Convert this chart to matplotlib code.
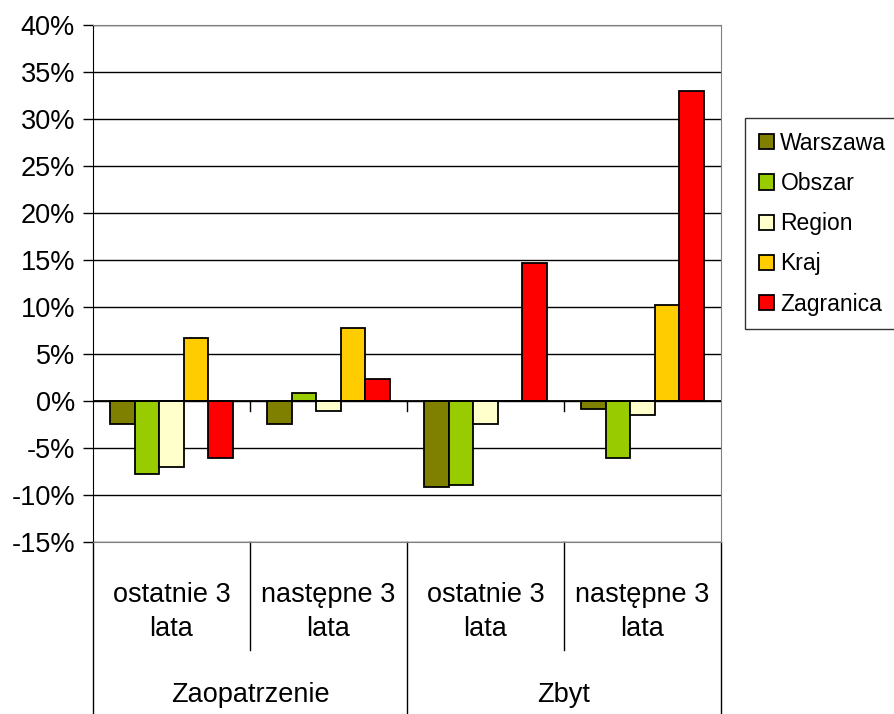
import numpy as np
import matplotlib
matplotlib.use("Agg")
import matplotlib.pyplot as plt
import matplotlib.transforms as mtransforms

plt.rcParams['font.family'] = ['Liberation Sans', 'DejaVu Sans']

# dane
kategorie = ["ostatnie 3\nlata", "następne 3\nlata", "ostatnie 3\nlata", "następne 3\nlata"]
grupy = ["Zaopatrzenie", "Zbyt"]
serie = ["Warszawa", "Obszar", "Region", "Kraj", "Zagranica"]
warszawa = [-2.4, -2.4, -9.1, -0.9]
obszar = [-7.8, 0.9, -8.9, -6.1]
region = [-7.0, -1.1, -2.4, -1.5]
kraj = [6.7, 7.8, 0.0, 10.2]
zagranica = [-6.1, 2.3, 14.7, 33.0]
kolory = ["#808000", "#99CC00", "#FFFFCC", "#FFCC00", "#FF0000"]
yticks = [-15, -10, -5, 0, 5, 10, 15, 20, 25, 30, 35, 40]

wartosci = [warszawa, obszar, region, kraj, zagranica]

fig = plt.figure(figsize=(8.94, 7.14), dpi=100)
ax = fig.add_axes([0.104, 0.2409, 0.7025, 0.724])

x = np.arange(len(kategorie))
w = 0.156
for i in range(len(serie)):
    ax.bar(x + (i - 2) * w, wartosci[i], w, color=kolory[i], edgecolor="black",
           linewidth=1.3, label=serie[i], zorder=3)

ax.set_xlim(-0.5, 3.5)
ax.set_ylim(-15, 40)
ax.set_yticks(yticks)
ax.set_yticklabels([f"{v}%" for v in yticks], fontsize=19.5)
ax.tick_params(axis="y", length=7, width=1, direction="out", pad=6)
ax.set_xticks([])
for v in yticks:
    ax.axhline(v, color="black", linewidth=1, zorder=1)
ax.axhline(0, color="black", linewidth=1.3, zorder=4)

for s in ["top", "right"]:
    ax.spines[s].set_color("#808080")
ax.spines["left"].set_color("black")
ax.spines["bottom"].set_color("#808080")

# male kreski przy osi zero
for b in [0.5, 1.5, 2.5]:
    ax.plot([b, b], [0, -1.1], color="black", linewidth=1, zorder=4)

# os kategorii dwupoziomowa
tr = mtransforms.blended_transform_factory(ax.transData, ax.transAxes)
for b in [-0.5, 1.5, 3.5]:
    ax.plot([b, b], [0, -0.333], color="black", linewidth=1, transform=tr, clip_on=False)
for b in [0.5, 2.5]:
    ax.plot([b, b], [0, -0.209], color="black", linewidth=1, transform=tr, clip_on=False)
for i, k in enumerate(kategorie):
    ax.text(i, -0.136, k, transform=tr, ha="center", va="center", fontsize=19.5,
            linespacing=1.4)
for j, g in enumerate(grupy):
    ax.text(2 * j + 0.5, -0.296, g, transform=tr, ha="center", va="center", fontsize=19.5)

leg = ax.legend(loc="upper left", bbox_to_anchor=(1.038, 0.82), fontsize=16.5,
                frameon=True, fancybox=False, edgecolor="black", handlelength=0.65,
                handleheight=0.65, handletextpad=0.3, labelspacing=0.75,
                borderpad=0.6, borderaxespad=0)
leg.get_frame().set_linewidth(1)

fig.savefig("out.png", dpi=100)
